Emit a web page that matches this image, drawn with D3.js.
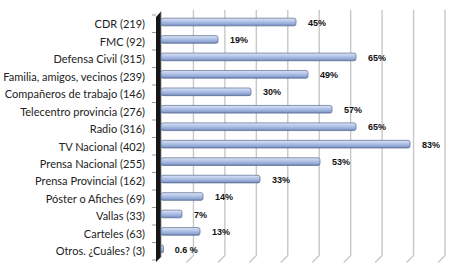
<!DOCTYPE html>
<html><head><meta charset="utf-8">
<script src="https://cdn.jsdelivr.net/npm/d3@7"></script>
<style>html,body{margin:0;padding:0;background:#fff;}svg{display:block;}</style>
</head><body>
<svg id="c" width="450" height="265"></svg>
<script>
const categories = ["CDR (219)","FMC (92)","Defensa Civil (315)","Familia, amigos, vecinos (239)","Compañeros de trabajo (146)","Telecentro provincia (276)","Radio (316)","TV Nacional (402)","Prensa Nacional (255)","Prensa Provincial (162)","Póster o Afiches (69)","Vallas (33)","Carteles (63)","Otros. ¿Cuáles? (3)"];
const values = [45,19,65,49,30,57,65,83,53,33,14,7,13,0.6];
const valueLabels = ["45%","19%","65%","49%","30%","57%","65%","83%","53%","33%","14%","7%","13%","0.6 %"];
const gridTicks = [10,20,30,40,50,60,70,80,90];

const svg = d3.select("#c");
const defs = svg.append("defs");
const g = defs.append("linearGradient").attr("id","barg").attr("x1",0).attr("y1",0).attr("x2",0).attr("y2",1);
g.append("stop").attr("offset","0%").attr("stop-color","#dfe7f6");
g.append("stop").attr("offset","35%").attr("stop-color","#b9c9ea");
g.append("stop").attr("offset","75%").attr("stop-color","#93a9d6");
g.append("stop").attr("offset","100%").attr("stop-color","#6c82b3");

const x = d3.scaleLinear().domain([0,90]).range([161,431]);
const gx = d3.scaleLinear().domain([0,90]).range([162,445]);
const y = d3.scaleBand().domain(categories).range([13.3,257.6]).paddingInner(0.56).paddingOuter(0.28);
const yb = d3.scaleBand().domain(categories).range([15,260]);

// gridlines on back wall
const gridTop = 10, gridBot = 255.5, slant = 7;
svg.append("g").selectAll("path").data(gridTicks).join("path")
  .attr("d", d => `M${gx(d)},${gridTop}V${gridBot}L${gx(d)-slant},${gridBot+slant}`)
  .attr("fill","none").attr("stroke","#c8c8c8").attr("stroke-width",1.4);

// left wall
svg.append("path")
  .attr("d","M156,17L161,11.5V257L156,262Z")
  .attr("fill","#161616");
svg.append("path").attr("d","M161,11.5V257").attr("stroke","#8a8a8a").attr("stroke-width",0.8);

// ticks
svg.append("g").selectAll("line").data(categories.concat(["_end"])).join("line")
  .attr("x1",152).attr("x2",156)
  .attr("y1",(d,i)=> 15 + i*yb.bandwidth()).attr("y2",(d,i)=> 15 + i*yb.bandwidth())
  .attr("stroke","#9a9a9a").attr("stroke-width",1);

// bars
svg.append("g").selectAll("rect").data(values).join("rect")
  .attr("x", x(0))
  .attr("y", (d,i)=> y(categories[i]))
  .attr("width", d => Math.max(2.5, x(d)-x(0)))
  .attr("height", y.bandwidth())
  .attr("rx", 2).attr("ry", 2)
  .attr("fill","url(#barg)")
  .attr("stroke","#56688f").attr("stroke-width",0.7);

// category labels
svg.append("g").selectAll("text").data(categories).join("text")
  .attr("x",145)
  .attr("y", d => y(d) + y.bandwidth()/2 + 2.5)
  .attr("dy","0.35em")
  .attr("text-anchor","end")
  .attr("font-family","Lato, 'Liberation Sans', sans-serif")
  .attr("font-size",11)
  .attr("fill","#222")
  .text(d=>d);

// value labels
svg.append("g").selectAll("text").data(values).join("text")
  .attr("x", d => x(d) + 12)
  .attr("y", (d,i)=> y(categories[i]) + y.bandwidth()/2 + 0.5)
  .attr("dy","0.35em")
  .attr("font-family","'Liberation Sans', Arial, sans-serif")
  .attr("font-weight","bold")
  .attr("font-size",9)
  .attr("fill","#111")
  .text((d,i)=>valueLabels[i]);
</script>
</body></html>
